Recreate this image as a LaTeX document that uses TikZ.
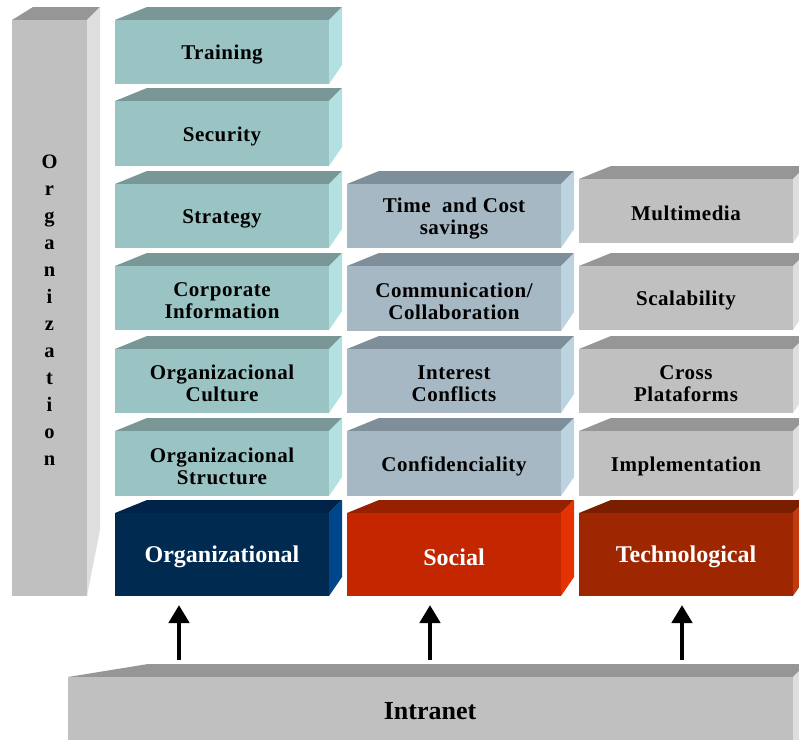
\documentclass[tikz,border=0pt]{standalone}
\usepackage{fontspec}
\setmainfont{Liberation Serif}
\newfontfamily\labfont[LetterSpace=2.5]{Liberation Serif}
\usetikzlibrary{arrows.meta}
\definecolor{cgreyF}{HTML}{C0C0C0}\definecolor{cgreyT}{HTML}{969696}\definecolor{cgreyS}{HTML}{DEDEDE}
\definecolor{ctealF}{HTML}{9AC3C3}\definecolor{ctealT}{HTML}{799797}\definecolor{ctealS}{HTML}{B3E0E0}
\definecolor{cslateF}{HTML}{A6B8C4}\definecolor{cslateT}{HTML}{7F8F99}\definecolor{cslateS}{HTML}{BCD3E0}
\definecolor{cnavyF}{HTML}{002A50}\definecolor{cnavyT}{HTML}{00234A}\definecolor{cnavyS}{HTML}{00468A}
\definecolor{csocF}{HTML}{C42600}\definecolor{csocT}{HTML}{962000}\definecolor{csocS}{HTML}{E43200}
\definecolor{ctechF}{HTML}{9E2600}\definecolor{ctechT}{HTML}{7A1E00}\definecolor{ctechS}{HTML}{C23A10}
\tikzset{
  lab/.style={align=center, font=\labfont\bfseries\fontsize{21}{22}\selectfont, text=black, yshift=-2.5pt},
  big/.style={align=center, font=\bfseries\fontsize{24}{26}\selectfont, text=white, yshift=-2.5pt},
  arr/.style={line width=4.5pt, -{Triangle[width=20pt,length=18pt]}}
}
% #1 name, #2 x1, #3 y1, #4 x2, #5 y2, #6 colour prefix, #7 text style, #8 text
\newcommand\cubebox[8]{%
  \fill[#6T] (#2,#3) -- (#2+32,#3-13) -- (#4+13,#3-13) -- (#4,#3) -- cycle;
  \fill[#6S] (#4,#3) -- (#4+13,#3-13) -- (#4+13,#5-19) -- (#4,#5) -- cycle;
  \node[fill=#6F, inner sep=0pt, minimum width={(#4-#2)*1pt}, minimum height={(#5-#3)*1pt}] (#1) at ({(#2+#4)/2},{(#3+#5)/2}) {};
  \node[#7, inner sep=0pt] (#1-text) at (#1.center) {#8};
}
\begin{document}
\begin{tikzpicture}[x=1pt,y=-1pt]
\path[use as bounding box] (0,0) rectangle (799,739);
\clip (0,0) rectangle (799,739);
% Organization pillar
\fill[cgreyT] (12,20) -- (33,7) -- (100,7) -- (87,20) -- cycle;
\fill[cgreyS] (87,20) -- (100,7) -- (100,530) -- (87,596) -- cycle;
\node[fill=cgreyF, inner sep=0pt, minimum width=75pt, minimum height=576pt] (pillar) at (49.5,308) {};
\node[align=center, font=\bfseries\fontsize{20.5}{27}\selectfont] (pillartext) at (49.5,310)
  {O\\r\\g\\a\\n\\i\\z\\a\\t\\i\\o\\n};
% column 1
\cubebox{training}{115}{20}{329}{84}{cteal}{lab}{Training}
\cubebox{security}{115}{101}{329}{166}{cteal}{lab}{Security}
\cubebox{strategy}{115}{184}{329}{248}{cteal}{lab}{Strategy}
\cubebox{corp}{115}{266}{329}{330}{cteal}{lab}{Corporate\\Information}
\cubebox{culture}{115}{349}{329}{413}{cteal}{lab}{Organizacional\\Culture}
\cubebox{structure}{115}{431}{329}{496}{cteal}{lab}{Organizacional\\Structure}
\cubebox{org}{115}{513}{329}{596}{cnavy}{big}{Organizational}
% column 2
\cubebox{time}{347}{184}{561}{248}{cslate}{lab}{Time\ \ and Cost\\savings}
\cubebox{comm}{347}{266}{561}{331}{cslate}{lab}{Communication/\\Collaboration}
\cubebox{interest}{347}{349}{561}{413}{cslate}{lab}{Interest\\Conflicts}
\cubebox{confid}{347}{431}{561}{496}{cslate}{lab}{Confidenciality}
\cubebox{social}{347}{513}{561}{596}{csoc}{big}{Social}
% column 3
\cubebox{multi}{579}{179}{793}{243}{cgrey}{lab}{Multimedia}
\cubebox{scal}{579}{266}{793}{330}{cgrey}{lab}{Scalability}
\cubebox{cross}{579}{349}{793}{413}{cgrey}{lab}{Cross\\Plataforms}
\cubebox{impl}{579}{431}{793}{496}{cgrey}{lab}{Implementation}
\cubebox{tech}{579}{513}{793}{596}{ctech}{big}{Technological}
% Intranet
\fill[cgreyT] (68,677) -- (148,664) -- (806,664) -- (793,677) -- cycle;
\fill[cgreyS] (793,677) -- (806,664) -- (806,745) -- (793,745) -- cycle;
\node[fill=cgreyF, inner sep=0pt, minimum width=725pt, minimum height=68pt] (intranetbox) at (430.5,711) {};
\node[font=\bfseries\fontsize{26}{28}\selectfont] (intranet) at (430,711) {Intranet};
% arrows
\coordinate (a1s) at (179,660); \coordinate (a1e) at (179,605);
\coordinate (a2s) at (430,660); \coordinate (a2e) at (430,605);
\coordinate (a3s) at (682,660); \coordinate (a3e) at (682,605);
\draw[arr] (a1s) -- (a1e);
\draw[arr] (a2s) -- (a2e);
\draw[arr] (a3s) -- (a3e);
\end{tikzpicture}
\end{document}
